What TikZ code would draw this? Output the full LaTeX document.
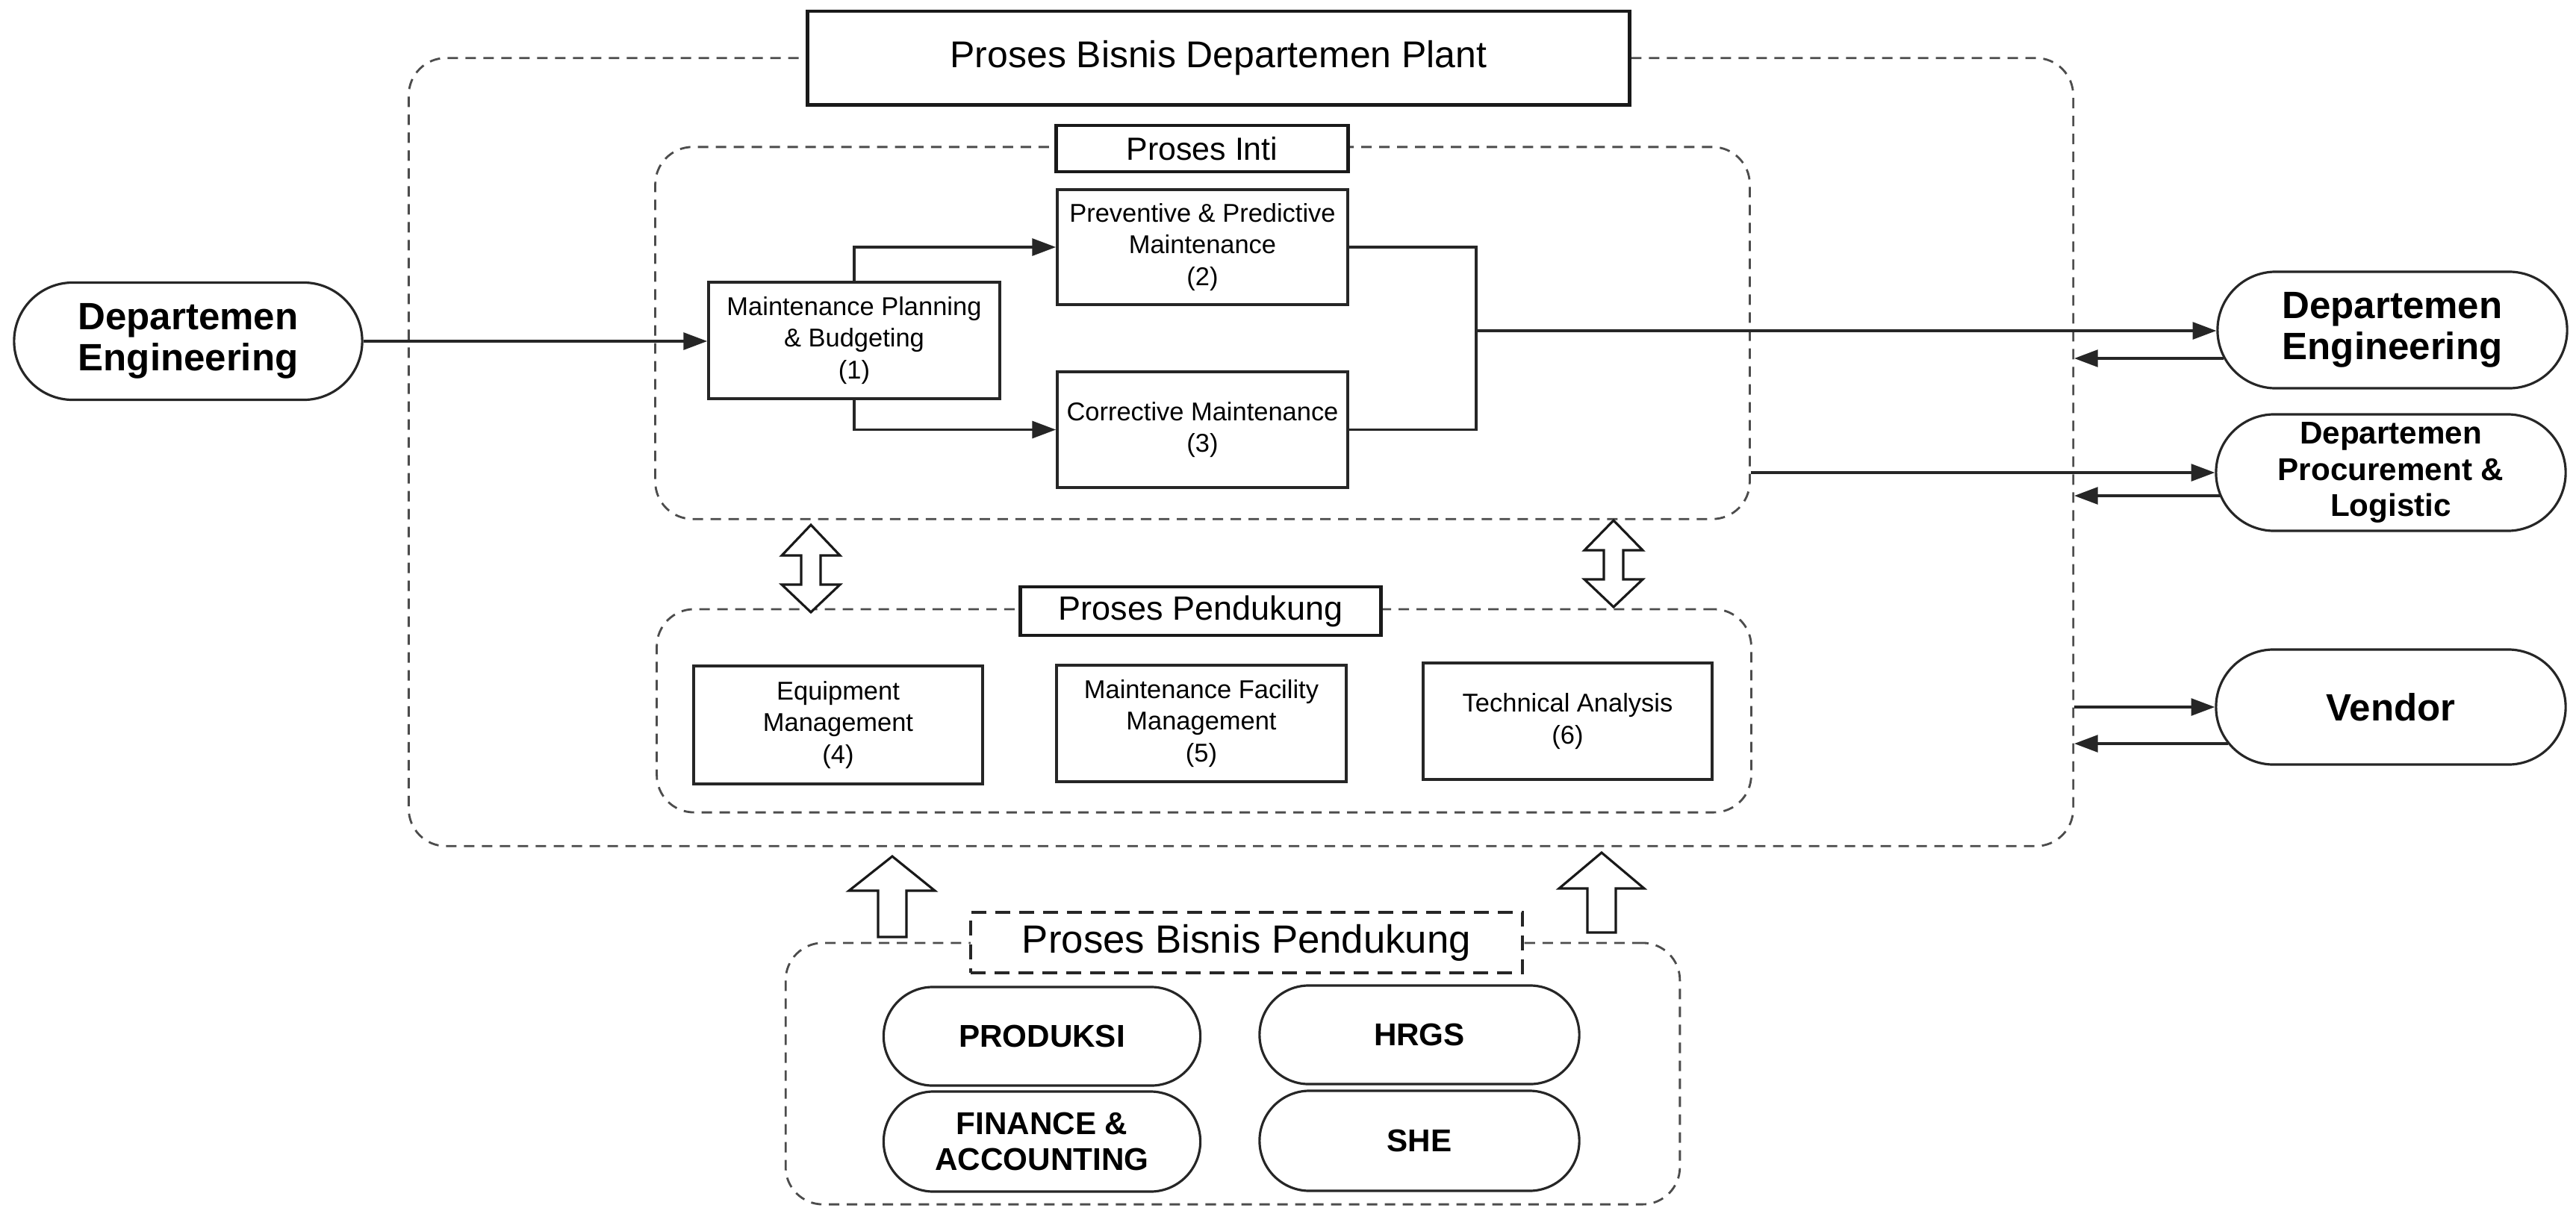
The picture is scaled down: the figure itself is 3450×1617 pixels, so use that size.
\documentclass[tikz,border=0pt]{standalone}
\usepackage{fontspec}
\setmainfont{Liberation Sans}
\usetikzlibrary{arrows.meta,calc,shapes.misc}

\begin{document}
\begin{tikzpicture}[x=0.01cm,y=-0.01cm,
  container/.style={draw=black!70, dash pattern=on 0.14cm off 0.10cm, line width=0.8pt, rounded corners=0.5cm, inner sep=0pt},
  tagbox/.style={draw=black!90, line width=1.4pt, fill=white, inner sep=0pt},
  procbox/.style={draw=black!85, line width=1pt, fill=white, align=center, inner sep=0pt, font=\fontsize{9.8}{12}\selectfont},
  pill/.style={draw=black!85, line width=0.9pt, rounded rectangle, align=center, inner sep=0pt, fill=white},
  bigfont/.style={font=\bfseries\fontsize{14.5}{15.5}\selectfont},
  midfont/.style={font=\bfseries\fontsize{12}{13.7}\selectfont},
  conn/.style={draw=black!85, line width=0.9pt},
  arr/.style={conn, -{Triangle[length=9pt,width=6.5pt]}},
  hollow/.style={draw=black!90, line width=0.9pt, fill=white, line join=miter}
]
\useasboundingbox (0,0) rectangle (3450,1617);

% containers
\node[container, minimum width=22.28cm, minimum height=10.55cm] (outer) at (1662,605.5) {};
\node[container, minimum width=14.65cm, minimum height=4.98cm] (inti) at (1610.5,446) {};
\node[container, minimum width=14.65cm, minimum height=2.72cm] (pend) at (1612.5,952) {};
\node[container, minimum width=11.97cm, minimum height=3.50cm] (bisnis) at (1651,1438) {};

% title boxes
\node[tagbox, minimum width=11cm, minimum height=1.25cm, font=\fontsize{14.2}{16}\selectfont] (title) at (1632,77.5) {Proses Bisnis Departemen Plant};
\node[tagbox, minimum width=3.9cm, minimum height=0.62cm, font=\fontsize{12.2}{14}\selectfont] (intilbl) at (1610,199) {Proses Inti};
\node[tagbox, minimum width=4.82cm, minimum height=0.65cm, font=\fontsize{12.8}{14}\selectfont] (pendlbl) at (1608,818.5) {Proses Pendukung};
\node[draw=black!85, fill=white, line width=1.2pt, dash pattern=on 0.2cm off 0.12cm, inner sep=0pt, minimum width=7.38cm, minimum height=0.81cm, font=\fontsize{15}{17}\selectfont] (bisnislbl) at (1669.5,1262.5) {Proses Bisnis Pendukung};

% core processes
\node[procbox, minimum width=3.9cm, minimum height=1.56cm] (b1) at (1144,456) {Maintenance Planning\\\& Budgeting\\(1)};
\node[procbox, minimum width=3.89cm, minimum height=1.54cm] (b2) at (1610.5,331) {Preventive \& Predictive\\Maintenance\\(2)};
\node[procbox, minimum width=3.89cm, minimum height=1.55cm] (b3) at (1610.5,575.5) {Corrective Maintenance\\(3)};

% support processes
\node[procbox, minimum width=3.87cm, minimum height=1.58cm] (b4) at (1122.5,971) {Equipment\\Management\\(4)};
\node[procbox, minimum width=3.88cm, minimum height=1.56cm] (b5) at (1609,969) {Maintenance Facility\\Management\\(5)};
\node[procbox, minimum width=3.87cm, minimum height=1.56cm] (b6) at (2099.5,966) {Technical Analysis\\(6)};

% external pills
\node[pill, bigfont, minimum width=4.66cm, minimum height=1.57cm] (deptL) at (252,457) {Departemen\\Engineering};
\node[pill, bigfont, minimum width=4.68cm, minimum height=1.56cm] (deptR) at (3204,442) {Departemen\\Engineering};
\node[pill, midfont, minimum width=4.68cm, minimum height=1.56cm] (proc) at (3202,633) {Departemen\\Procurement \&\\Logistic};
\node[pill, bigfont, minimum width=4.68cm, minimum height=1.54cm] (vendor) at (3202,947) {Vendor};

% supporting business pills
\node[pill, midfont, minimum width=4.24cm, minimum height=1.32cm] (prod) at (1395.5,1388) {PRODUKSI};
\node[pill, midfont, minimum width=4.28cm, minimum height=1.32cm] (hrgs) at (1901,1386) {HRGS};
\node[pill, midfont, minimum width=4.24cm, minimum height=1.34cm] (fin) at (1395.5,1529) {FINANCE \&\\ACCOUNTING};
\node[pill, midfont, minimum width=4.28cm, minimum height=1.34cm] (she) at (1901,1528) {SHE};

% connectors
\draw[arr] (deptL.east) -- (deptL.east -| b1.west);
\draw[arr] (b1.north) |- (b2.west);
\draw[arr] (b1.south) |- (b3.west);
\coordinate (jx) at (1977,443);
\draw[conn] (b2.east) -| (jx) |- (b3.east);
\draw[arr] (jx) -- (jx -| deptR.west);
\draw[arr] (inti.east |- proc.west) -- (proc.west);
\draw[arr] (outer.east |- vendor.west) -- (vendor.west);

\coordinate (r1) at ($(deptR.west)+(10,38)$);
\draw[arr] (r1) -- (r1 -| outer.east);
\coordinate (r2) at ($(proc.west)+(7,31)$);
\draw[arr] (r2) -- (r2 -| outer.east);
\coordinate (r3) at ($(vendor.west)+(18,49)$);
\draw[arr] (r3) -- (r3 -| outer.east);

% hollow double arrows between core and support
\draw[hollow] (1086,703) -- (1125,744) -- (1099,744) -- (1099,783) -- (1125,783) -- (1086,820) -- (1047,783) -- (1073,783) -- (1073,744) -- (1047,744) -- cycle;
\draw[hollow] (2161,697) -- (2200,737) -- (2174,737) -- (2174,776) -- (2200,776) -- (2161,813) -- (2122,776) -- (2148,776) -- (2148,737) -- (2122,737) -- cycle;

% hollow up arrows from supporting business
\draw[hollow] (1195,1147) -- (1252,1193) -- (1214,1193) -- (1214,1255) -- (1176,1255) -- (1176,1193) -- (1137,1193) -- cycle;
\draw[hollow] (2145,1142) -- (2202,1190) -- (2164,1190) -- (2164,1249) -- (2126,1249) -- (2126,1190) -- (2088,1190) -- cycle;
\end{tikzpicture}
\end{document}
